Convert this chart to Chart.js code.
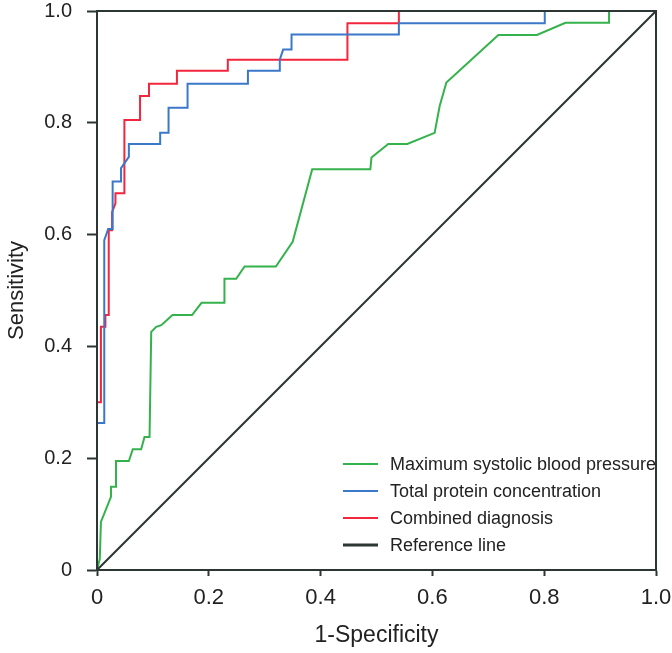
<!DOCTYPE html>
<html>
<head>
<meta charset="utf-8">
<script src="https://cdn.jsdelivr.net/npm/chart.js@4.4.1/dist/chart.umd.min.js"></script>
<style>
  html, body { margin: 0; padding: 0; background: #fff; }
  #wrap { width: 672px; height: 653px; }
</style>
</head>
<body>
<div id="wrap"><canvas id="roc"></canvas></div>
<script>
// series names as in the legend
const seriesNames = ['Maximum systolic blood pressure', 'Total protein concentration', 'Combined diagnosis', 'Reference line'];
const seriesColors = ['#34b24b', '#3b78c9', '#f2263d', '#2c3634'];

// axis ticks
const tickValues = [0, 0.2, 0.4, 0.6, 0.8, 1.0];

// Maximum systolic blood pressure
const sbpX = [0, 0.005, 0.007, 0.025, 0.025, 0.034, 0.034, 0.057, 0.064, 0.079, 0.085, 0.094, 0.097, 0.106, 0.115, 0.135, 0.170, 0.187, 0.228, 0.228, 0.249, 0.264, 0.320, 0.350, 0.385, 0.489, 0.491, 0.521, 0.555, 0.604, 0.613, 0.625, 0.718, 0.787, 0.838, 0.916, 0.916, 1];
const sbpY = [0, 0.020, 0.086, 0.131, 0.149, 0.149, 0.195, 0.195, 0.216, 0.216, 0.238, 0.238, 0.426, 0.435, 0.438, 0.456, 0.456, 0.478, 0.478, 0.521, 0.521, 0.543, 0.543, 0.587, 0.717, 0.717, 0.738, 0.762, 0.762, 0.782, 0.830, 0.872, 0.957, 0.957, 0.979, 0.979, 1.0, 1.0];

// Total protein concentration
const tpX = [0, 0, 0.013, 0.013, 0.020, 0.028, 0.028, 0.043, 0.043, 0.057, 0.057, 0.113, 0.113, 0.128, 0.128, 0.162, 0.162, 0.270, 0.270, 0.327, 0.327, 0.333, 0.348, 0.348, 0.540, 0.540, 0.801, 0.801, 1];
const tpY = [0, 0.263, 0.263, 0.590, 0.610, 0.610, 0.695, 0.695, 0.719, 0.739, 0.762, 0.762, 0.782, 0.782, 0.827, 0.827, 0.870, 0.870, 0.893, 0.893, 0.913, 0.931, 0.931, 0.958, 0.958, 0.978, 0.978, 1.0, 1.0];

// Combined diagnosis
const combX = [0, 0, 0.007, 0.007, 0.015, 0.015, 0.021, 0.021, 0.027, 0.027, 0.033, 0.033, 0.049, 0.049, 0.077, 0.077, 0.093, 0.093, 0.143, 0.143, 0.234, 0.234, 0.448, 0.448, 0.540, 0.540, 1];
const combY = [0, 0.300, 0.300, 0.435, 0.435, 0.456, 0.456, 0.608, 0.608, 0.640, 0.656, 0.674, 0.674, 0.805, 0.805, 0.848, 0.848, 0.870, 0.870, 0.893, 0.893, 0.913, 0.913, 0.978, 0.978, 1.0, 1.0];

// Reference line
const refX = [0, 1];
const refY = [0, 1];

const toPoints = (xs, ys) => xs.map((x, i) => ({x: x, y: ys[i]}));

const axisColor = '#2c3634';
const fontFamily = '"Liberation Sans", Arial, Helvetica, sans-serif';

const makeSet = (i, xs, ys) => ({
    label: seriesNames[i],
    data: toPoints(xs, ys),
    borderColor: seriesColors[i],
    backgroundColor: seriesColors[i],
    borderWidth: 2,
    pointRadius: 0,
    tension: 0,
    fill: false
});

// box around the plot area
const frame = {
    id: 'frame',
    afterDatasetsDraw(chart) {
        const {ctx, chartArea} = chart;
        ctx.save();
        ctx.strokeStyle = axisColor;
        ctx.lineWidth = 2;
        ctx.strokeRect(chartArea.left, chartArea.top, chartArea.right - chartArea.left, chartArea.bottom - chartArea.top);
        ctx.restore();
    }
};

// legend drawn inside the lower right of the plot, in the legend order of seriesNames
const insideLegend = {
    id: 'insideLegend',
    afterDraw(chart) {
        const {ctx, chartArea} = chart;
        ctx.save();
        ctx.font = '18px ' + fontFamily;
        ctx.textBaseline = 'middle';
        ctx.fillStyle = '#222';
        seriesNames.forEach((name, i) => {
            const y = chartArea.bottom - 106 + i * 27;
            const x = chartArea.left + 246;
            ctx.strokeStyle = seriesColors[i];
            ctx.lineWidth = i === 3 ? 3 : 2;
            ctx.beginPath();
            ctx.moveTo(x, y);
            ctx.lineTo(x + 35, y);
            ctx.stroke();
            ctx.fillText(name, x + 47, y + 1);
        });
        ctx.restore();
    }
};

const tickLabel = v => v === 0 ? '0' : v.toFixed(1);

new Chart(document.getElementById('roc'), {
    type: 'line',
    data: {
        datasets: [
            makeSet(3, refX, refY),
            makeSet(0, sbpX, sbpY),
            makeSet(1, tpX, tpY),
            makeSet(2, combX, combY)
        ]
    },
    options: {
        responsive: true,
        maintainAspectRatio: false,
        animation: false,
        layout: {padding: 0},
        plugins: {
            legend: {display: false},
            tooltip: {enabled: false}
        },
        scales: {
            x: {
                type: 'linear',
                min: 0,
                max: 1,
                afterBuildTicks: s => { s.ticks = tickValues.map(v => ({value: v})); },
                afterFit: s => { s.height = 83; s.paddingLeft = 0; s.paddingRight = 16; },
                ticks: {callback: tickLabel, color: '#222', font: {family: fontFamily, size: 22}, padding: 9, maxRotation: 0},
                grid: {display: true, drawOnChartArea: false, drawTicks: true, tickLength: 6, tickColor: axisColor, tickWidth: 2},
                border: {display: true, color: axisColor, width: 2},
                title: {display: true, text: '1-Specificity', color: '#222', font: {family: fontFamily, size: 23}, padding: {top: 4}}
            },
            y: {
                type: 'linear',
                min: 0,
                max: 1,
                afterBuildTicks: s => { s.ticks = tickValues.map(v => ({value: v})); },
                afterFit: s => { s.width = 97; s.paddingTop = 11; s.paddingBottom = 0; },
                ticks: {callback: tickLabel, color: '#222', font: {family: fontFamily, size: 20}, padding: 15},
                grid: {display: true, drawOnChartArea: false, drawTicks: true, tickLength: 10, tickColor: axisColor, tickWidth: 2},
                border: {display: true, color: axisColor, width: 2},
                title: {display: true, text: 'Sensitivity', color: '#222', font: {family: fontFamily, size: 22}, padding: {top: 4, bottom: 0}}
            }
        }
    },
    plugins: [frame, insideLegend]
});
</script>
</body>
</html>
